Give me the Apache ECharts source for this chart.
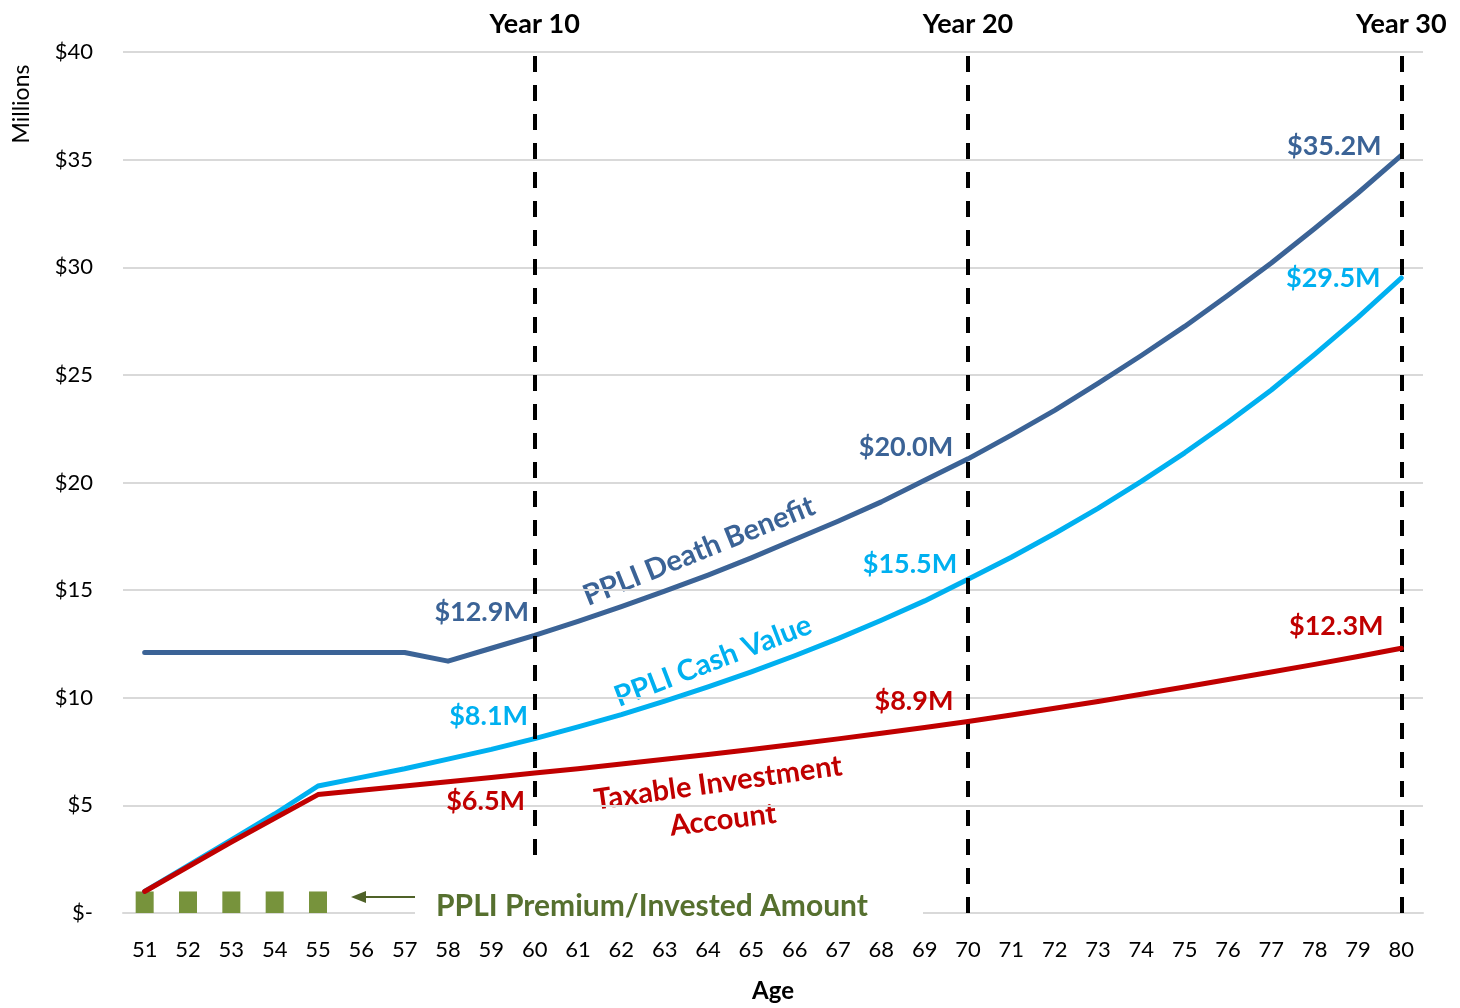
<!DOCTYPE html>
<html>
<head>
<meta charset="utf-8">
<script src="https://cdn.jsdelivr.net/npm/echarts@6/dist/echarts.min.js"></script>
<style>
  html, body { margin: 0; background: #fff; }
  #chart { width: 1460px; height: 1008px; }
</style>
</head>
<body>
<div id="chart"></div>
<script>
// ages on the x axis
const ages = ['51','52','53','54','55','56','57','58','59','60','61','62','63','64','65',
  '66','67','68','69','70','71','72','73','74','75','76','77','78','79','80'];

// values in $ millions
const deathBenefit = [12.1, 12.1, 12.1, 12.1, 12.1, 12.1, 12.1, 11.7, 12.3, 12.9,
  13.55, 14.23, 14.95, 15.7, 16.5, 17.35, 18.2, 19.1, 20.1, 21.1,
  22.2, 23.35, 24.6, 25.9, 27.25, 28.7, 30.2, 31.8, 33.45, 35.2];
const cashValue = [1.0, 2.2, 3.4, 4.6, 5.9, 6.3, 6.7, 7.15, 7.6, 8.1,
  8.65, 9.22, 9.84, 10.5, 11.2, 11.95, 12.75, 13.6, 14.5, 15.5,
  16.53, 17.63, 18.8, 20.05, 21.38, 22.8, 24.3, 25.95, 27.67, 29.5];
const taxable = [1.0, 2.15, 3.3, 4.4, 5.5, 5.7, 5.9, 6.1, 6.3, 6.5,
  6.7, 6.92, 7.14, 7.36, 7.6, 7.84, 8.09, 8.35, 8.62, 8.9,
  9.2, 9.51, 9.83, 10.16, 10.5, 10.85, 11.2, 11.55, 11.92, 12.3];
const premium = [1.0, 1.0, 1.0, 1.0, 1.0];

// milestone years
const markAges = ['60', '70', '80'];
const markNames = ['Year 10', 'Year 20', 'Year 30'];

// callout texts at the milestone ages
const dbCallouts = ['$12.9M', '$20.0M', '$35.2M'];
const cvCallouts = ['$8.1M', '$15.5M', '$29.5M'];
const txCallouts = ['$6.5M', '$8.9M', '$12.3M'];

const FONT = 'Lato, "Open Sans", sans-serif';
const C_DB = '#3B6396';
const C_CV = '#00B0F0';
const C_TX = '#C00000';
const C_GREEN = '#77933C';
const C_GREEN_TXT = '#56702F';

function callouts(values, texts, offsets) {
  return markAges.map((a, i) => ({
    coord: [a, values[ages.indexOf(a)]],
    label: {
      formatter: texts[i],
      offset: offsets[i]
    }
  }));
}

function markPt(values, texts, color, offsets) {
  return {
    symbol: 'circle',
    symbolSize: 1,
    itemStyle: { color: 'rgba(0,0,0,0)' },
    label: {
      show: true,
      position: 'inside',
      color: color,
      fontFamily: FONT,
      fontWeight: 'bold',
      fontSize: 27,
      align: 'center',
      verticalAlign: 'middle'
    },
    data: callouts(values, texts, offsets)
  };
}

const chart = echarts.init(document.getElementById('chart'));
const deg = Math.PI / 180;

chart.setOption({
  animation: false,
  grid: { left: 123, right: 37, top: 52, bottom: 92 },
  xAxis: {
    type: 'category',
    data: ages,
    name: 'Age',
    nameLocation: 'middle',
    nameGap: 66,
    nameTextStyle: { fontFamily: FONT, fontWeight: 'bold', fontSize: 24, color: '#000' },
    axisLine: { lineStyle: { color: '#D9D9D9', width: 2 } },
    axisTick: { show: false },
    axisLabel: { interval: 0, margin: 26, fontFamily: FONT, fontSize: 22, color: '#000' }
  },
  yAxis: {
    type: 'value',
    min: 0,
    max: 40,
    interval: 5,
    axisLine: { show: false },
    axisTick: { show: false },
    splitLine: { lineStyle: { color: '#D9D9D9', width: 2 } },
    axisLabel: {
      margin: 30,
      fontFamily: FONT,
      fontSize: 22,
      color: '#000',
      formatter: v => v === 0 ? '$-' : '$' + v
    }
  },
  series: [
    {
      name: 'PPLI Premium/Invested Amount',
      type: 'bar',
      data: premium,
      barWidth: 18,
      itemStyle: { color: C_GREEN },
      z: 3
    },
    {
      name: 'PPLI Death Benefit',
      type: 'line',
      data: deathBenefit,
      showSymbol: false,
      lineStyle: { color: C_DB, width: 5, cap: 'round', join: 'round' },
      itemStyle: { color: C_DB },
      z: 4,
      markPoint: markPt(deathBenefit, dbCallouts, C_DB, [[-53, -23], [-62, -12], [-67, -9]]),
      markLine: {
        symbol: ['none', 'none'],
        silent: true,
        lineStyle: { color: '#000', type: [16, 13], width: 4 },
        label: {
          show: true,
          position: 'end',
          distance: 14,
          fontFamily: FONT,
          fontWeight: 'bold',
          fontSize: 27,
          color: '#000',
          formatter: p => markNames[markAges.indexOf(p.value)] || ''
        },
        data: markAges.map(a => ({ xAxis: a }))
      }
    },
    {
      name: 'PPLI Cash Value',
      type: 'line',
      data: cashValue,
      showSymbol: false,
      lineStyle: { color: C_CV, width: 5, cap: 'round', join: 'round' },
      itemStyle: { color: C_CV },
      z: 4,
      markPoint: markPt(cashValue, cvCallouts, C_CV, [[-46, -22], [-58, -15], [-68, 0]])
    },
    {
      name: 'Taxable Investment Account',
      type: 'line',
      data: taxable,
      showSymbol: false,
      lineStyle: { color: C_TX, width: 5, cap: 'round', join: 'round' },
      itemStyle: { color: C_TX },
      z: 5,
      markPoint: markPt(taxable, txCallouts, C_TX, [[-49, 28], [-54, -20], [-65, -22]])
    }
  ],
  graphic: [
    {
      type: 'text', x: 22, y: 104, rotation: 90 * deg,
      style: { text: 'Millions', fontFamily: FONT, fontSize: 23, fill: '#000', align: 'center', verticalAlign: 'middle' }
    },
    {
      type: 'text', x: 699, y: 551, rotation: 22 * deg,
      style: { text: 'PPLI Death Benefit', fontFamily: FONT, fontWeight: 'bold', fontSize: 29, fill: C_DB, align: 'center', verticalAlign: 'middle' }
    },
    {
      type: 'text', x: 713, y: 661, rotation: 21 * deg,
      style: { text: 'PPLI Cash Value', fontFamily: FONT, fontWeight: 'bold', fontSize: 29, fill: C_CV, align: 'center', verticalAlign: 'middle' }
    },
    {
      type: 'text', x: 718, y: 783, rotation: 8 * deg,
      style: { text: 'Taxable Investment', fontFamily: FONT, fontWeight: 'bold', fontSize: 29, fill: C_TX, align: 'center', verticalAlign: 'middle' }
    },
    {
      type: 'text', x: 723, y: 820, rotation: 7 * deg,
      style: { text: 'Account', fontFamily: FONT, fontWeight: 'bold', fontSize: 29, fill: C_TX, align: 'center', verticalAlign: 'middle' }
    },
    {
      type: 'rect', z: 100,
      shape: { x: 415, y: 866, width: 508, height: 56 },
      style: { fill: '#fff' }
    },
    {
      type: 'text', z: 101, x: 652, y: 906,
      style: { text: 'PPLI Premium/Invested Amount', fontFamily: FONT, fontWeight: 'bold', fontSize: 30, fill: C_GREEN_TXT, align: 'center', verticalAlign: 'middle' }
    },
    {
      type: 'line', z: 101,
      shape: { x1: 362, y1: 897, x2: 415, y2: 897 },
      style: { stroke: '#4F6228', lineWidth: 2 }
    },
    {
      type: 'polygon', z: 101,
      shape: { points: [[351, 897], [366, 891], [366, 903]] },
      style: { fill: '#4F6228' }
    }
  ]
});
</script>
</body>
</html>
